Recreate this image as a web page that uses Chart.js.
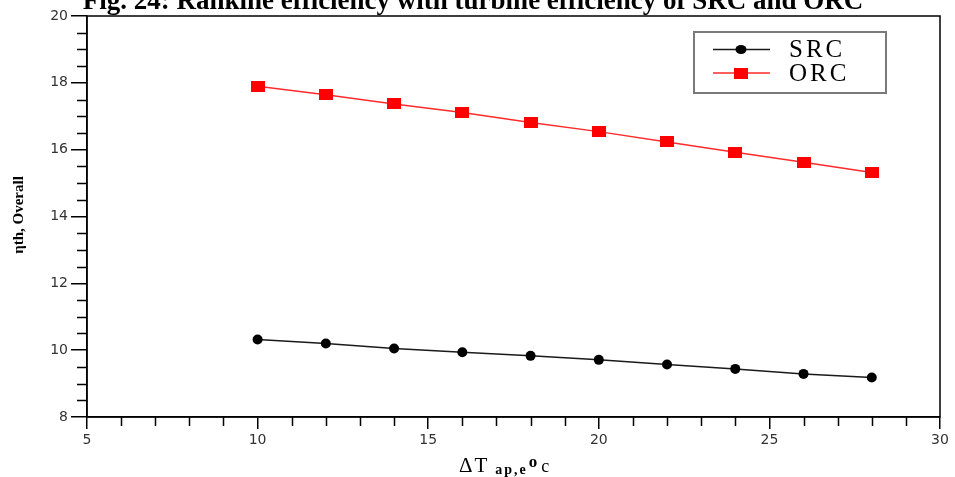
<!DOCTYPE html>
<html>
<head>
<meta charset="utf-8">
<script src="https://cdn.jsdelivr.net/npm/chart.js@4.4.1/dist/chart.umd.min.js"></script>
<style>
  html, body { margin: 0; padding: 0; background: #fff; }
  #wrap { width: 955px; height: 477px; }
</style>
</head>
<body>
<div id="wrap"><canvas id="myChart" width="955" height="477"></canvas></div>
<script>
// data
const deltaT = [10, 12, 14, 16, 18, 20, 22, 24, 26, 28];
const srcEff = [10.32, 10.20, 10.05, 9.94, 9.83, 9.71, 9.57, 9.44, 9.29, 9.18];
const orcEff = [17.90, 17.64, 17.37, 17.11, 16.81, 16.54, 16.23, 15.92, 15.62, 15.32];
const seriesNames = ['SRC', 'ORC'];
const figTitle = 'Fig. 24: Rankine efficiency with turbine efficiency of SRC and ORC';
const yTitle = 'ηth, Overall';

// red rectangle marker
const sq = document.createElement('canvas');
sq.width = 14; sq.height = 11;
const sctx = sq.getContext('2d');
sctx.fillStyle = '#ff0000';
sctx.fillRect(0, 0, 14, 11);

function pts(vals) {
    return deltaT.map((x, i) => ({ x: x, y: vals[i] }));
}

// frame, minor ticks, titles and the boxed legend
const decor = {
    id: 'decor',
    afterDraw(chart) {
        const ctx = chart.ctx;
        const a = chart.chartArea;
        const xs = chart.scales.x, ys = chart.scales.y;
        ctx.save();
        ctx.strokeStyle = '#000';
        ctx.lineWidth = 1.5;
        ctx.strokeRect(a.left, a.top, a.right - a.left, a.bottom - a.top);

        // minor ticks
        ctx.beginPath();
        for (let v = 8.5; v < 20; v += 0.5) {
            if (v % 2 === 0) continue;
            const y = Math.round(ys.getPixelForValue(v)) + 0.5;
            ctx.moveTo(a.left - 10, y); ctx.lineTo(a.left, y);
        }
        for (let v = 6; v < 30; v++) {
            if (v % 5 === 0) continue;
            const x = Math.round(xs.getPixelForValue(v)) + 0.5;
            ctx.moveTo(x, a.bottom); ctx.lineTo(x, a.bottom + 9);
        }
        ctx.stroke();

        // figure title (cut off at the top like the scan)
        ctx.fillStyle = '#000';
        ctx.font = 'bold 27px "Liberation Serif"';
        ctx.textAlign = 'center';
        ctx.textBaseline = 'alphabetic';
        ctx.fillText(figTitle, 473, 9);

        // y axis title
        ctx.save();
        ctx.translate(23, 215);
        ctx.rotate(-Math.PI / 2);
        ctx.font = 'bold 15px "Liberation Serif"';
        ctx.fillText(yTitle, 0, 0);
        ctx.restore();

        // x axis title with sub/superscript
        ctx.textAlign = 'left';
        let x = 459;
        const base = 472;
        ctx.letterSpacing = '2px';
        ctx.font = '21px "Liberation Serif"';
        ctx.fillText('ΔT', x, base);
        x += ctx.measureText('ΔT').width + 6;
        ctx.font = 'bold 14px "Liberation Serif"';
        ctx.fillText('ap,e', x, base + 2);
        x += ctx.measureText('ap,e').width + 1;
        ctx.font = 'bold 17px "Liberation Serif"';
        ctx.fillText('o', x, base - 5);
        x += ctx.measureText('o').width + 2;
        ctx.font = '18px "Liberation Serif"';
        ctx.fillText('c', x, base);
        ctx.letterSpacing = '0px';

        // legend box
        ctx.strokeStyle = '#7a7a7a';
        ctx.lineWidth = 2;
        ctx.strokeRect(694, 32, 192, 61);
        const rows = [
            { ds: chart.data.datasets[0], y: 49.5 },
            { ds: chart.data.datasets[1], y: 73 }
        ];
        rows.forEach(r => {
            ctx.strokeStyle = r.ds.borderColor;
            ctx.lineWidth = 1.5;
            ctx.beginPath();
            ctx.moveTo(713, r.y); ctx.lineTo(770, r.y);
            ctx.stroke();
            if (r.ds.pointStyle === 'circle') {
                ctx.fillStyle = r.ds.pointBackgroundColor;
                ctx.beginPath();
                ctx.ellipse(741, r.y, 5.5, 4.5, 0, 0, Math.PI * 2);
                ctx.fill();
            } else {
                ctx.drawImage(sq, 734, r.y - 5.5);
            }
            ctx.fillStyle = '#000';
            ctx.font = '25px "Liberation Serif"';
            ctx.letterSpacing = '3px';
            ctx.textBaseline = 'middle';
            ctx.fillText(r.ds.label, 789, r.y + 1);
            ctx.letterSpacing = '0px';
        });
        ctx.restore();
    }
};

new Chart(document.getElementById('myChart'), {
    type: 'line',
    data: {
        datasets: [{
            label: seriesNames[0],
            data: pts(srcEff),
            borderColor: '#1a1a1a',
            borderWidth: 1.5,
            pointStyle: 'circle',
            pointRadius: 5,
            pointBackgroundColor: '#000',
            pointBorderColor: '#000',
            pointBorderWidth: 0
        }, {
            label: seriesNames[1],
            data: pts(orcEff),
            borderColor: '#ff2a2a',
            borderWidth: 1.5,
            pointStyle: sq,
            pointRadius: 7,
            pointBackgroundColor: '#ff0000'
        }]
    },
    options: {
        responsive: false,
        animation: false,
        events: [],
        layout: { padding: { top: 16, right: 15, left: 0, bottom: 0 } },
        plugins: { legend: { display: false }, tooltip: { enabled: false }, title: { display: false } },
        scales: {
            x: {
                type: 'linear',
                min: 5, max: 30,
                ticks: { stepSize: 5, color: '#333', font: { family: 'DejaVu Sans', size: 14 }, padding: 3, maxRotation: 0 },
                grid: { drawOnChartArea: false, tickLength: 12, color: '#000', lineWidth: 1.5 },
                border: { color: '#000', width: 1.5 },
                afterFit(scale) { scale.height = 60; }
            },
            y: {
                min: 8, max: 20,
                ticks: { stepSize: 2, color: '#333', font: { family: 'DejaVu Sans', size: 14 }, padding: 3 },
                grid: { drawOnChartArea: false, tickLength: 16, color: '#000', lineWidth: 1.5 },
                border: { color: '#000', width: 1.5 },
                afterFit(scale) { scale.width = 87; }
            }
        }
    },
    plugins: [decor]
});
</script>
</body>
</html>
